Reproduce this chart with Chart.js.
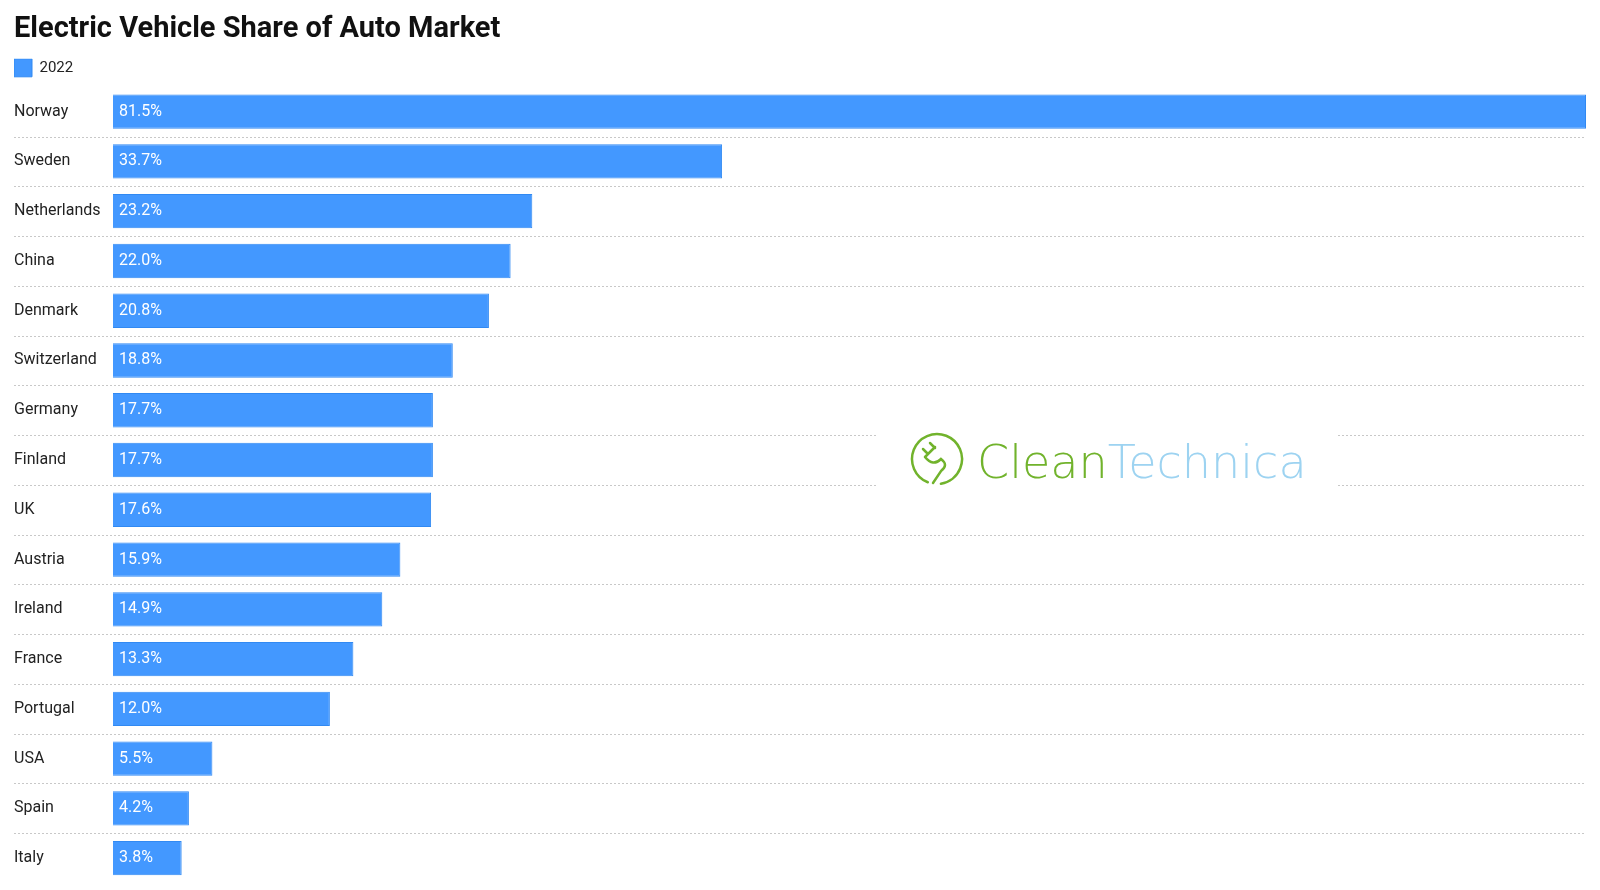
<!DOCTYPE html>
<html>
<head>
<meta charset="utf-8">
<script src="https://cdn.jsdelivr.net/npm/chart.js@4.4.1/dist/chart.umd.min.js"></script>
<style>
    html, body { margin: 0; padding: 0; background: #fff; }
    #wrap { width: 1600px; height: 890px; position: relative; }
</style>
</head>
<body>
<div id="wrap"><canvas id="evShare"></canvas></div>
<script>
const countries = ['Norway', 'Sweden', 'Netherlands', 'China', 'Denmark', 'Switzerland', 'Germany', 'Finland',
    'UK', 'Austria', 'Ireland', 'France', 'Portugal', 'USA', 'Spain', 'Italy'];
const share2022 = [81.5, 33.7, 23.2, 22.0, 20.8, 18.8, 17.7, 17.7, 17.6, 15.9, 14.9, 13.3, 12.0, 5.5, 4.2, 3.8];
const seriesName = '2022';
const xMax = 81.5;

const barBlue = '#4398ff';

// dotted lines between the rows, from the label column to the right edge
const rowSeparators = {
    id: 'rowSeparators',
    beforeDatasetsDraw(chart) {
        const {ctx, chartArea, scales: {y}} = chart;
        ctx.save();
        ctx.strokeStyle = '#c8c8c8';
        ctx.lineWidth = 1;
        ctx.setLineDash([2, 2]);
        for (let i = 0; i < countries.length - 1; i++) {
            const py = Math.round((y.getPixelForValue(i) + y.getPixelForValue(i + 1)) / 2) + 0.5;
            ctx.beginPath();
            ctx.moveTo(14, py);
            ctx.lineTo(chartArea.right, py);
            ctx.stroke();
        }
        ctx.restore();
    }
};

// value text inside each bar
const valueLabels = {
    id: 'valueLabels',
    afterDatasetsDraw(chart) {
        const {ctx} = chart;
        const meta = chart.getDatasetMeta(0);
        ctx.save();
        ctx.fillStyle = '#ffffff';
        ctx.font = '16px Roboto';
        ctx.textBaseline = 'middle';
        ctx.textAlign = 'left';
        meta.data.forEach((bar, i) => {
            ctx.fillText(share2022[i].toFixed(1) + '%', bar.base + 6, bar.y);
        });
        ctx.restore();
    }
};

// CleanTechnica watermark
const watermark = {
    id: 'watermark',
    afterDraw(chart) {
        const {ctx} = chart;
        const green = '#71b32c';
        const blue = '#9dd3f1';
        ctx.save();
        ctx.fillStyle = '#ffffff';
        ctx.fillRect(877, 405, 460, 110);

        const cx = 937, cy = 459, r = 25;
        ctx.strokeStyle = green;
        ctx.lineWidth = 2.5;
        ctx.lineCap = 'round';
        ctx.beginPath();
        ctx.arc(cx, cy, r, Math.PI * 0.62, Math.PI * 2.45);
        ctx.stroke();
        // plug
        ctx.beginPath();
        ctx.moveTo(cx - 12, cy - 2);
        ctx.lineTo(cx - 2, cy - 12);
        ctx.moveTo(cx - 14, cy - 10);
        ctx.lineTo(cx - 9, cy - 5);
        ctx.moveTo(cx - 7, cy - 16);
        ctx.lineTo(cx - 2, cy - 11);
        ctx.moveTo(cx - 12, cy - 2);
        ctx.quadraticCurveTo(cx - 4, cy + 8, cx + 4, cy);
        ctx.quadraticCurveTo(cx + 12, cy + 6, cx + 4, cy + 12);
        ctx.lineTo(cx - 4, cy + 24);
        ctx.stroke();

        // thin wide face, sized to the width of the original logo
        ctx.font = '200 50px "DejaVu Sans"';
        const full = ctx.measureText('CleanTechnica').width;
        const size = Math.min(50, 50 * 330 / full);
        ctx.font = '200 ' + size.toFixed(1) + 'px "DejaVu Sans"';
        ctx.textBaseline = 'alphabetic';
        ctx.textAlign = 'left';
        ctx.fillStyle = green;
        ctx.fillText('Clean', 977, 478);
        const w = ctx.measureText('Clean').width;
        ctx.fillStyle = blue;
        ctx.fillText('Technica', 977 + w, 478);
        ctx.restore();
    }
};

new Chart(document.getElementById('evShare'), {
    type: 'bar',
    data: {
        labels: countries,
        datasets: [{
            label: seriesName,
            data: share2022,
            backgroundColor: barBlue,
            borderColor: '#3189f2',
            borderWidth: 1,
            barPercentage: 0.69,
            categoryPercentage: 1
        }]
    },
    options: {
        indexAxis: 'y',
        responsive: true,
        maintainAspectRatio: false,
        animation: false,
        devicePixelRatio: 1,
        layout: {
            padding: {left: 14, right: 14, top: 0, bottom: 7}
        },
        scales: {
            x: {
                display: false,
                min: 0,
                max: xMax
            },
            y: {
                grid: {display: false},
                border: {display: false},
                ticks: {
                    crossAlign: 'far',
                    color: '#222',
                    padding: 0,
                    font: {family: 'Roboto', size: 16}
                },
                afterFit(scale) {
                    scale.width = 99;
                    // rows already leave room for the labels
                    scale.paddingTop = 0;
                    scale.paddingBottom = 0;
                }
            }
        },
        plugins: {
            title: {
                display: true,
                text: 'Electric Vehicle Share of Auto Market',
                align: 'start',
                color: '#111',
                font: {family: 'Roboto', size: 29, weight: 'bold'},
                padding: {top: 12, bottom: 12}
            },
            legend: {
                align: 'start',
                labels: {
                    boxWidth: 18,
                    boxHeight: 18,
                    padding: 0,
                    color: '#222',
                    font: {family: 'Roboto', size: 15}
                }
            },
            tooltip: {enabled: false}
        }
    },
    plugins: [rowSeparators, valueLabels, watermark]
});
</script>
</body>
</html>
